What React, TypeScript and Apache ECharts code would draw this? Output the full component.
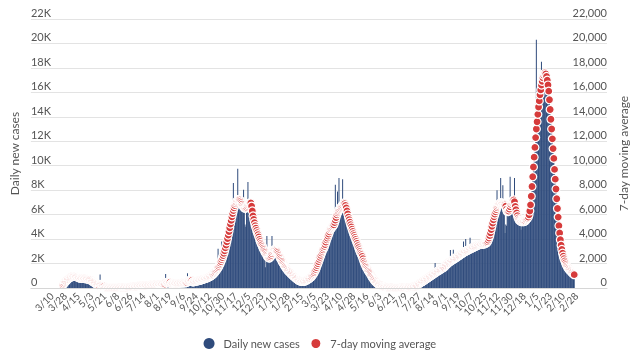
import React, { useEffect, useRef } from 'react';
import * as echarts from 'echarts';

// Day 0 = 3/10/2020; ticks every 18 days
const tickLabels = ['3/10','3/28','4/15','5/3','5/21','6/8','6/26','7/14','8/1','8/19','9/6','9/24','10/12','10/30','11/17','12/5','12/23','1/10','1/28','2/15','3/5','3/23','4/10','4/28','5/16','6/3','6/21','7/9','7/27','8/14','9/1','9/19','10/7','10/25','11/12','11/30','12/18','1/5','1/23','2/10','2/28'];
const tickStep = 18;
const dayMin = -26;
const dayMax = 765;

// Spring 2020: starts day 18 (3/28/2020)
const seg1Start = 18;
const seg1Cases = [300,380,
450,540,620,700,760,850,900,950,1050,1000,
1150,1100,1250,1050,950,900,850,820,800,780,
800,760,780,820,790,800,770,780,760,740,
750,720,700,680,650,600,560,500,450,400,
360,320,280,250,220,190,170,150,130,1100,
110,95,85,75,70,60,55,50];
const seg1Avg = [250,330,
410,490,560,630,690,740,790,830,870,900,
930,950,970,980,980,970,950,920,890,860,
840,820,810,800,795,790,785,780,775,770,
765,755,740,720,700,675,645,610,570,530,
490,450,410,370,330,290,250,220,190,300,
270,240,210,190,170,150,70,60];

// Early summer 2020 lull: starts day 78 (5/27/2020)
const lull2020Start = 78;
const lull2020Cases = [45,40,50,42,38,45,50,40,35,42,
48,40,38,45,50,42,40,48,55,45,
50,58,52,60,55,65,60,70,68,75,
80,85,90,95,100,110,115,120,130,140,
145,150];
const lull2020Avg = [55,52,50,48,46,45,44,44,43,43,
43,43,44,44,45,45,46,47,48,49,
50,52,54,56,58,60,62,65,68,71,
75,79,84,89,95,100,106,113,120,128,
136,145];

// Summer 2020 - spring 2021: starts day 120 (7/8/2020)
const seg2Start = 120;
const seg2Cases = [
160,180,170,190,180,200,190,210,200,220,
210,230,220,240,230,250,245,260,240,270,
250,270,260,280,270,290,280,300,280,300,
290,310,300,320,300,330,310,340,320,1150,
330,350,340,360,350,370,355,380,360,380,
370,390,380,400,385,410,395,420,400,410,
400,430,410,440,420,450,430,460,440,1200,
450,480,470,500,490,520,510,540,530,560,
550,580,570,600,590,620,610,650,640,680,
670,720,700,760,740,800,780,840,860,900,
880,1400,1000,1080,1100,1200,1220,1300,1420,1500,
1550,3200,1750,1950,2000,2200,3800,2500,2700,2900,
3100,3300,3550,3800,4100,4400,4700,5000,5300,5600,
5900,6100,8580,6500,6700,6900,7000,7100,9750,7200,
7300,7100,7000,6900,6700,6500,8030,6400,5200,5000,
6500,6800,8660,7000,6900,7100,6900,6500,6000,5700,
5500,5200,4900,4700,4600,4400,4200,4000,3900,3700,
3600,3500,3300,3200,3100,2950,1700,2800,4250,2600,
2500,2450,2500,2700,2900,4250,3000,3100,3150,3200,
3150,3100,3000,2900,2780,2650,2500,2400,2300,2150,
2050,1950,1850,1750,1680,1600,1500,1450,1350,1300,
1220,1180,1100,1050,980,950,880,840,790,750,
700,650,610,580,560,540,530,530,540,560,
570,600,620,650,690,730,770,810,860,910,
980,1050,1150,1250,1380,1500,1650,1820,1980,2150,
2300,2500,2650,2800,2950,3100,3250,3400,3550,3750,
3900,4100,4300,4500,4650,4800,4900,5000,5100,5150,
5200,5400,8440,5800,6000,7890,6300,8990,6500,6600,
6700,6800,8900,6900,7000,6500,6900,6300,6100,5900,
5700,5500,5300,5100,4900,4700,4550,4400,4250,4100,
3950,3800,3650,3450,3300,3150,3000,2850,2700,2550,
2380,2200,2050,1900,1780,1650,1550,1450,1350,1250,
1150,1050,950,860,770,690,610,540,470,410,
360,320];
const seg2Avg = [
170,175,180,185,190,195,200,205,210,215,
220,225,230,235,240,245,250,250,255,260,
260,265,270,270,275,280,280,285,290,290,
295,300,300,305,310,310,315,320,325,445,
450,455,455,460,465,470,355,360,365,370,
375,380,385,390,395,400,400,405,410,410,
415,420,420,425,430,430,435,440,445,555,
565,575,585,595,600,610,500,510,520,535,
550,565,580,595,610,625,640,655,670,690,
710,730,750,770,790,810,830,860,890,920,
950,990,1030,1080,1130,1190,1250,1320,1400,1480,
1570,1670,1780,1900,2030,2170,2320,2480,2650,2840,
3050,3280,3520,3780,4050,4330,4620,4920,5230,5530,
5820,6090,6330,6550,6740,6900,7020,7110,7180,7220,
7250,7200,7100,6980,6850,6720,6620,6560,6530,6540,
6600,6700,6800,6880,6940,6960,6950,6700,6300,5900,
5600,5350,5100,4900,4700,4520,4360,4170,3980,3800,
3650,3520,3380,3250,3130,3010,2900,2790,2680,2580,
2500,2450,2470,2550,2680,2820,2950,3050,3120,3150,
3130,3080,3000,2900,2780,2650,2520,2400,2280,2170,
2060,1960,1860,1770,1680,1600,1520,1440,1370,1300,
1240,1180,1120,1060,1000,950,900,850,800,760,
700,660,620,590,570,555,545,540,545,560,
580,600,630,660,700,740,780,820,870,920,
1000,1080,1170,1270,1390,1520,1670,1830,2000,2170,
2340,2510,2680,2850,3000,3130,3260,3400,3560,3750,
3950,4090,4250,4420,4600,4760,4850,4930,5010,5090,
5170,5350,5550,5760,5990,6150,6280,6380,6460,6540,
6620,6700,6780,6860,6950,6900,6750,6550,6300,6050,
5800,5580,5380,5180,4990,4800,4620,4450,4290,4130,
3970,3810,3640,3470,3300,3130,2990,2850,2720,2580,
2400,2200,2050,1900,1780,1660,1550,1450,1360,1260,
1160,1060,960,870,780,700,620,550,480,420,
370,330];

// Summer 2021 lull: starts day 452 (6/5/2021)
const lull2021Start = 452;
const lull2021Cases = [200,170,140,120,100,85,70,60,50,45,
40,36,33,30,28,26,25,24,23,22,
22,22,22,23,23,24,25,26,27,28,
30,32,34,36,38,41,44,48,52,56,
60,66,72,80,88,96,105,115,125,140,
160,185,230];
const lull2021Avg = [290,255,225,198,175,155,137,121,107,95,
84,74,66,58,52,46,41,37,34,31,
29,27,26,25,25,25,25,26,26,27,
28,30,32,34,36,39,42,45,49,53,
58,63,69,75,82,90,99,109,120,133,
150,175,220];

// Fall 2021 - winter 2022: starts day 505 (7/28/2021)
const seg3Start = 505;
const seg3Cases = [280,310,350,390,430,
470,510,550,590,630,670,710,750,790,830,
870,910,950,990,1030,1070,1110,1150,1190,2050,
1250,1290,1330,1380,1420,1460,1500,1550,1590,1630,
1640,1700,1750,1810,1870,1930,1990,2040,2090,2130,
3100,2200,2250,2290,3130,2370,2410,2450,2490,2530,
2570,2610,2650,2690,2730,2770,2810,2850,3800,2930,
2970,4000,3030,3060,3090,3120,3150,4100,3210,3240,
3270,3300,3330,3360,3390,3420,3450,3480,3500,3520,
3540,3550,3560,3570,3580,3590,3600,3610,3630,3660,
3700,3780,4900,4060,4260,4500,4760,5030,5300,5560,
5800,6020,6220,6400,8000,6700,6800,6850,6900,9000,
6950,6900,8400,6850,6780,4500,5200,5100,6200,6300,
6000,6300,9100,6700,6900,7100,7300,7200,9000,6900,
6600,6300,6000,5800,5650,5550,5500,4760,5400,5400,
5400,5450,5500,5550,5600,5700,5800,6000,6500,7200,
6900,7600,8500,9300,10100,10900,11700,12500,20300,13800,
14300,14900,15400,15900,16300,18500,16900,17200,17400,17600,
17700,17500,17200,16900,16400,15800,15100,14300,13500,12700,
11900,11100,10300,9400,8600,7800,7000,6200,5500,4800,
4200,3700,3300,2950,2650,2420,2220,2050,1900,1780,
1660,1560,1480,1400,1330,1260,1200,1150,1100,1050,
1000];
const seg3Avg = [290,320,360,400,440,
480,520,560,600,640,680,720,760,800,840,
880,920,960,1000,1040,1080,1120,1160,1200,1240,
1280,1320,1360,1400,1440,1480,1520,1560,1600,1640,
1650,1700,1760,1820,1880,1940,2000,2050,2100,2140,
2180,2220,2260,2300,2340,2380,2420,2460,2500,2540,
2580,2620,2660,2700,2740,2780,2820,2860,2900,2940,
2980,3010,3040,3070,3100,3130,3160,3190,3220,3250,
3280,3310,3340,3370,3400,3430,3460,3490,3510,3530,
3550,3560,3570,3580,3590,3600,3610,3620,3640,3670,
3720,3800,3920,4080,4280,4520,4780,5050,5320,5580,
5820,6040,6240,6420,6580,6700,6800,6880,6930,6950,
6950,6940,6920,6890,6850,6800,6700,6450,6260,6250,
6300,6450,6650,6850,7000,7100,7180,7210,7050,6670,
6400,6130,5920,5720,5600,5520,5470,5440,5430,5430,
5430,5440,5460,5500,5580,5650,5720,5800,5990,6300,
6800,7500,8300,9100,9900,10700,11500,12300,13000,13600,
14200,14800,15300,15800,16200,16600,16900,17200,17400,17550,
17600,17500,17300,17000,16600,16100,15400,14600,13800,13000,
12200,11400,10600,9700,8900,8100,7300,6500,5800,5100,
4500,3950,3500,3150,2850,2600,2400,2220,2060,1920,
1800,1700,1610,1530,1460,1390,1330,1270,1210,1150,
1090];

const BLUE = '#2f4b7c';
const RED = '#d63b3b';
const FONT = 'Lato, "Noto Sans", sans-serif';

export default function App() {
  const ref = useRef<HTMLDivElement>(null);
  useEffect(() => {
    const chart = echarts.init(ref.current!, null, { renderer: 'svg' });
    const n = dayMax - dayMin + 1;
    const categories: string[] = [];
    for (let i = 0; i < n; i++) categories.push(String(i + dayMin));
    const cases: (number | string)[] = new Array(n).fill('-');
    const avg: (number | string)[] = new Array(n).fill('-');
    const place = (start: number, c: number[], a: number[]) => {
      c.forEach((v, i) => { cases[start + i - dayMin] = v; });
      a.forEach((v, i) => { avg[start + i - dayMin] = v; });
    };
    place(seg1Start, seg1Cases, seg1Avg);
    place(lull2020Start, lull2020Cases, lull2020Avg);
    place(seg2Start, seg2Cases, seg2Avg);
    place(lull2021Start, lull2021Cases, lull2021Avg);
    place(seg3Start, seg3Cases, seg3Avg);

    chart.setOption({
      animation: false,
      textStyle: { fontFamily: FONT },
      grid: { left: 30, right: 33, top: 19, bottom: 75, containLabel: false },
      legend: {
        bottom: 8,
        left: 'center',
        icon: 'circle',
        itemWidth: 11,
        itemHeight: 11,
        itemGap: 9,
        textStyle: { fontFamily: FONT, fontSize: 11, color: '#555', padding: [0, 0, 0, 4] },
        data: ['Daily new cases', '7-day moving average'],
      },
      xAxis: {
        type: 'category',
        data: categories,
        boundaryGap: false,
        z: 10,
        splitLine: { show: false },
        axisLine: { show: true, lineStyle: { color: '#d6d6d6' } },
        axisTick: { show: false },
        axisLabel: { show: false },
      },
      yAxis: [
        {
          type: 'value',
          min: 0,
          max: 22000,
          interval: 2000,
          position: 'left',
          name: 'Daily new cases',
          nameLocation: 'middle',
          nameRotate: 90,
          nameGap: 8,
          nameTextStyle: { fontSize: 12, color: '#555', fontFamily: FONT },
          axisLine: { show: false },
          axisTick: { show: false },
          splitLine: { show: true, lineStyle: { color: '#e3e3e3', width: 1 } },
          axisLabel: {
            inside: true,
            margin: 0,
            verticalAlign: 'bottom',
            padding: [0, 0, 1, 0],
            fontSize: 11,
            color: '#555',
            fontFamily: FONT,
            formatter: (v: number) => (v === 0 ? '0' : v / 1000 + 'K'),
          },
        },
        {
          type: 'value',
          min: 0,
          max: 22000,
          interval: 2000,
          position: 'right',
          name: '7-day moving average',
          nameLocation: 'middle',
          nameRotate: 90,
          nameGap: 8,
          nameTextStyle: { fontSize: 12, color: '#555', fontFamily: FONT },
          axisLine: { show: false },
          axisTick: { show: false },
          splitLine: { show: false },
          axisLabel: {
            inside: true,
            margin: 0,
            verticalAlign: 'bottom',
            padding: [0, 0, 1, 0],
            fontSize: 11,
            color: '#555',
            fontFamily: FONT,
            formatter: (v: number) => v.toLocaleString('en-US'),
          },
        },
      ],
      series: [
        {
          name: 'Daily new cases',
          type: 'bar',
          yAxisIndex: 0,
          data: cases,
          barCategoryGap: '15%',
          itemStyle: { color: BLUE },
          silent: true,
        },
        {
          name: '7-day moving average',
          type: 'line',
          yAxisIndex: 1,
          data: avg,
          symbol: 'circle',
          symbolSize: 8,
          showSymbol: true,
          showAllSymbol: true,
          connectNulls: false,
          lineStyle: { width: 0, opacity: 0 },
          itemStyle: { color: RED, borderColor: '#ffffff', borderWidth: 1.2 },
          silent: true,
          z: 3,
        },
      ],
    });

    // Date tick labels placed through the category axis scale
    const baseY = chart.convertToPixel({ yAxisIndex: 0 }, 0) as number;
    const labelEls = tickLabels.map((text, i) => {
      const px = chart.convertToPixel({ xAxisIndex: 0 }, String(i * tickStep)) as number;
      return {
        type: 'text',
        x: px + 2,
        y: baseY + 6,
        rotation: Math.PI / 4,
        silent: true,
        z: 100,
        style: {
          text,
          fill: '#555',
          font: '10px Lato, "Noto Sans", sans-serif',
          align: 'right',
          verticalAlign: 'middle',
          textAlign: 'right',
          textVerticalAlign: 'middle',
        },
      };
    });
    chart.setOption({ graphic: labelEls });

    return () => chart.dispose();
  }, []);
  return <div ref={ref} style={{ position: 'fixed', left: 0, top: 0, width: 640, height: 363 }} />;
}
